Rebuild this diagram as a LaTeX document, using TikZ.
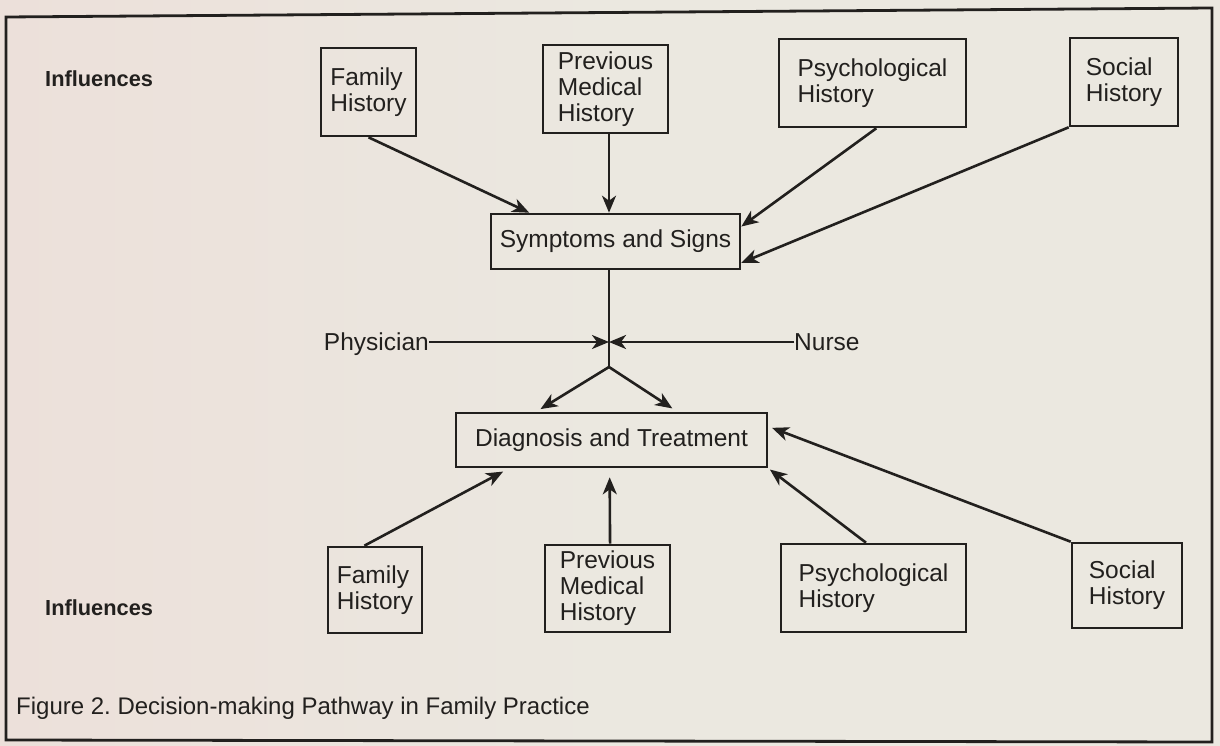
\documentclass[tikz,border=0pt]{standalone}
\usepackage{fontspec}
\setmainfont{Liberation Sans}
\usetikzlibrary{arrows.meta,calc}
\definecolor{paper}{RGB}{235,232,224}
\definecolor{paperpink}{RGB}{236,224,218}
\definecolor{ink}{RGB}{34,32,30}
\tikzset{
  hbox/.style={draw=ink, line width=2.6pt, text=ink, align=left, inner sep=0pt,
    font=\fontsize{24.5}{26}\selectfont},
  lbl/.style={text=ink, inner sep=0pt, font=\fontsize{24.5}{26}\selectfont},
  inflbl/.style={text=ink, inner sep=0pt, font=\fontsize{21.8}{24}\selectfont\bfseries},
  conn/.style={draw=ink, line width=2.6pt},
  arr/.style={conn, -{Stealth[length=17pt,width=14pt,inset=5pt]}}
}
\frenchspacing
\begin{document}
\begin{tikzpicture}[x=1pt,y=-1pt]
\useasboundingbox (0,0) rectangle (1220,746);
\shade[left color=paperpink, right color=paper, middle color=paper] (0,0) rectangle (1220,746);
\draw[ink, line width=2.8pt] (6,17) -- (1212,8) -- (1212,742) -- (6,740) -- cycle;

% influences labels
\node[inflbl, anchor=base west] (inftop) at (45,87) {Influences};
\node[inflbl, anchor=base west] (infbot) at (45,615) {Influences};

% top row
\node[hbox, minimum width=95pt, minimum height=88pt] (fh1) at (368.5,92) {Family\\History};
\node[hbox, minimum width=125pt, minimum height=88pt] (pm1) at (605.5,89) {Previous\\Medical\\History};
\node[hbox, minimum width=187pt, minimum height=88pt] (ps1) at (872.5,83) {Psychological\\History};
\node[hbox, minimum width=108pt, minimum height=88pt] (so1) at (1124,82) {Social\\History};

% middle
\node[hbox, minimum width=249pt, minimum height=55pt] (sym) at (615.5,241.5) {Symptoms and Signs};
\node[hbox, minimum width=311pt, minimum height=54pt] (dia) at (611.5,440) {Diagnosis and Treatment};

% bottom row
\node[hbox, minimum width=94pt, minimum height=86pt] (fh2) at (375,590) {Family\\History};
\node[hbox, minimum width=125pt, minimum height=87pt] (pm2) at (607.5,588.5) {Previous\\Medical\\History};
\node[hbox, minimum width=185pt, minimum height=88pt] (ps2) at (873.5,588) {Psychological\\History};
\node[hbox, minimum width=110pt, minimum height=85pt] (so2) at (1127,585.5) {Social\\History};

% physician / nurse
\coordinate (J) at (609,342);
\coordinate (B) at (609,367);
\node[lbl, anchor=base east] (phys) at (429,350) {Physician};
\node[lbl, anchor=base west] (nurse) at (794,350) {Nurse};

% caption
\node[lbl, anchor=base west, font=\fontsize{24}{26}\selectfont] (cap) at (16,714) {Figure 2. Decision-making Pathway in Family Practice};

% top arrows
\draw[arr] (fh1.south) -- ($(sym.north west)!0.157!(sym.north east)$);
\draw[arr] (pm1.south -| J) -- (sym.north -| J);
\draw[arr] ($(ps1.south west)!0.52!(ps1.south east)$) -- ($(sym.north east)!0.24!(sym.south east)$);
\draw[arr] (so1.south west) -- ($(sym.north east)!0.87!(sym.south east)$);

% centre
\draw[conn] (sym.south -| J) -- (B);
\draw[arr] (phys.east |- J) -- (J);
\draw[arr] (nurse.west |- J) -- (J);
\draw[arr, shorten >=5pt] (B) -- ($(dia.north west)!0.26!(dia.north east)$);
\draw[arr, shorten >=6pt] (B) -- ($(dia.north west)!0.71!(dia.north east)$);

% bottom arrows
\draw[arr, shorten >=7pt] ($(fh2.north west)!0.39!(fh2.north east)$) -- ($(dia.south west)!0.174!(dia.south east)$);
\draw[arr, shorten >=9pt] ($(pm2.north west)!0.52!(pm2.north east)$) -- ($(dia.south west)!0.494!(dia.south east)$);
\draw[arr, shorten >=2pt] ($(ps2.north west)!0.46!(ps2.north east)$) -- (dia.south east);
\draw[arr, shorten >=4pt] (so2.north west) -- ($(dia.north east)!0.26!(dia.south east)$);
\end{tikzpicture}
\end{document}
